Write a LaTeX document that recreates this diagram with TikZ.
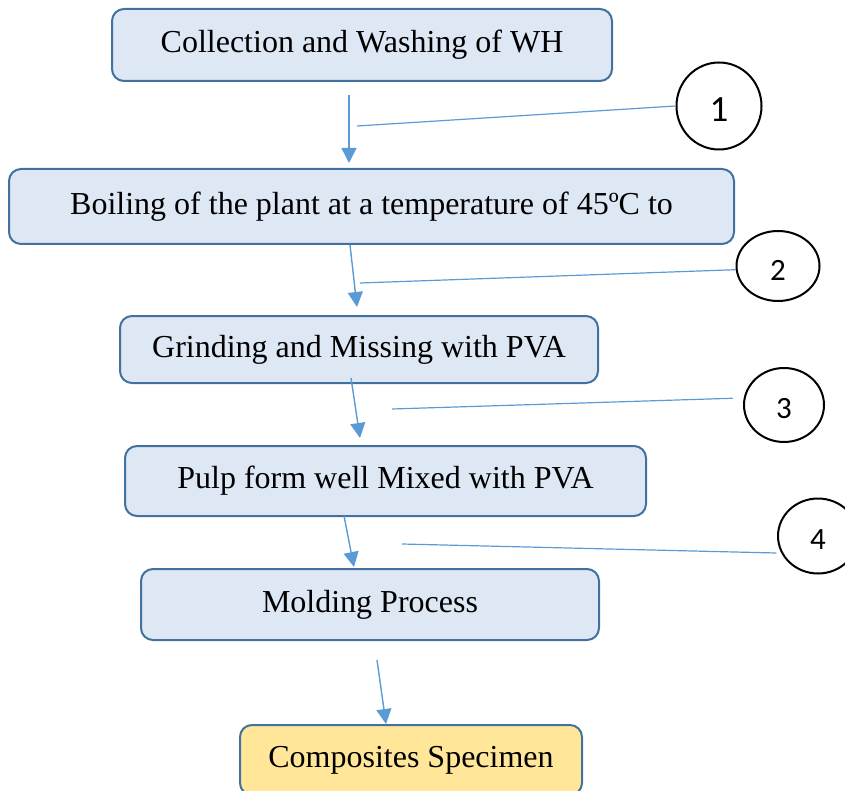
\documentclass[tikz,border=0pt]{standalone}
\usepackage{fontspec}
\setmainfont{Liberation Serif}
\newfontfamily\numfont{Carlito}
\usetikzlibrary{arrows.meta,shapes.geometric}
\definecolor{boxblue}{HTML}{DEE8F5}
\definecolor{boxline}{HTML}{41719C}
\definecolor{specyellow}{HTML}{FFE699}
\definecolor{arrowblue}{HTML}{5B9BD5}
\newcommand{\stepno}[1]{\raisebox{-4pt}[\height][\depth]{#1}}
\begin{document}
\begin{tikzpicture}[x=1pt,y=-1pt,
    stagebox/.style={draw=boxline,fill=boxblue,line width=2pt,rounded corners=12pt,inner sep=0pt,
        font=\fontsize{32}{38}\selectfont},
    flow/.style={arrowblue,line width=1.4pt,-{Triangle[length=15pt,width=15pt]}},
    leader/.style={arrowblue,line width=1.2pt},
    marker/.style={draw,ellipse,line width=2pt,inner sep=0pt,font=\numfont\fontsize{31}{36}\selectfont}]
    \useasboundingbox (0,0) rectangle (845,791);
    \node[stagebox,minimum width=500pt,minimum height=72pt] (wash) at (362,45) {Collection and Washing of WH};
    \node[stagebox,minimum width=725pt,minimum height=75pt] (boil) at (371.5,206.5) {Boiling of the plant at a temperature of 45ºC to};
    \node[stagebox,minimum width=478pt,minimum height=67pt] (grind) at (359,349.5) {Grinding and Missing with PVA};
    \node[stagebox,minimum width=521pt,minimum height=70pt] (pulp) at (385.5,481) {Pulp form well Mixed with PVA};
    \node[stagebox,minimum width=458pt,minimum height=71pt] (mold) at (370,604.5) {Molding Process};
    \node[stagebox,fill=specyellow,minimum width=342pt,minimum height=70pt] (spec) at (411,760) {Composites Specimen};
    \node[marker,minimum width=85pt,minimum height=87pt,font=\numfont\fontsize{37}{42}\selectfont] (m1) at (719,106) {\stepno{1}};
    \node[marker,minimum width=83pt,minimum height=70pt] (m2) at (778,266) {\stepno{2}};
    \node[marker,minimum width=80pt,minimum height=74pt] (m3) at (784,405) {\stepno{3}};
    \node[marker,minimum width=80pt,minimum height=75pt] (m4) at (818,536) {\stepno{4}};
    \coordinate (a1) at (349,95);  \coordinate (b1) at (349,163);
    \coordinate (a2) at (350,245); \coordinate (b2) at (357,307);
    \coordinate (a3) at (351,378); \coordinate (b3) at (360,438);
    \coordinate (a4) at (344,516); \coordinate (b4) at (354,567);
    \coordinate (a5) at (377,660); \coordinate (b5) at (386,724);
    \draw[flow] (a1)--(b1);
    \draw[flow] (a2)--(b2);
    \draw[flow] (a3)--(b3);
    \draw[flow] (a4)--(b4);
    \draw[flow] (a5)--(b5);
    \coordinate (l1) at (357,126);
    \coordinate (l2) at (360,283);
    \coordinate (l3) at (392,409);
    \coordinate (l4) at (402,544);
    \draw[leader] (l1)--(m1.west);
    \draw[leader] (l2)--(m2.185);
    \draw[leader,shorten >=11pt] (l3)--(m3.170);
    \draw[leader,shorten >=5pt] (l4)--(m4.205);
\end{tikzpicture}
\end{document}
